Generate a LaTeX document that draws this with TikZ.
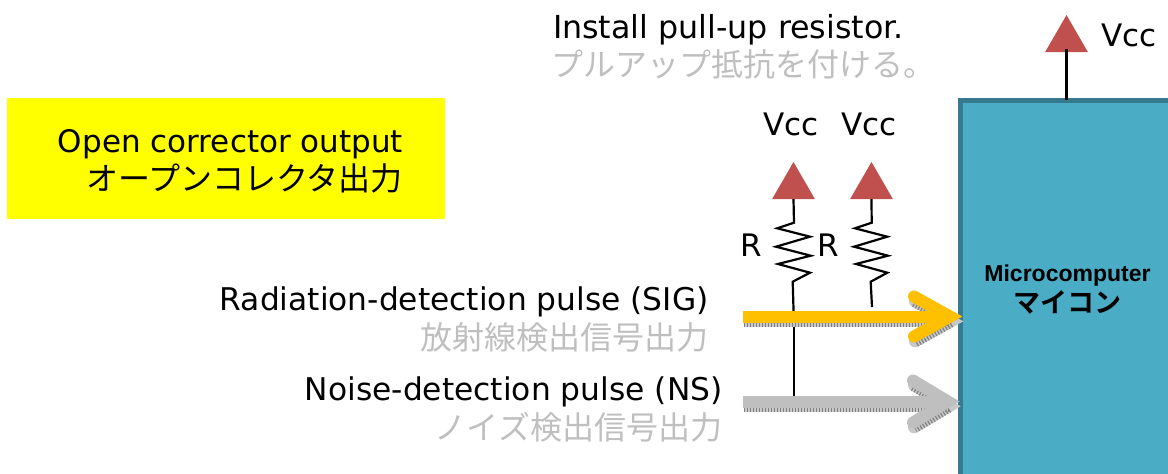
\documentclass[tikz,border=0pt]{standalone}
\usepackage{fontspec}
\setmainfont{DejaVu Sans}
\newfontfamily\cjk{Noto Sans CJK JP}
\newfontfamily\cjkb{Noto Sans CJK JP Bold}
\newfontfamily\mcfont{Liberation Sans}
\usetikzlibrary{shapes.geometric}
\definecolor{boxfill}{HTML}{4BACC6}
\definecolor{boxline}{HTML}{37798F}
\definecolor{vccred}{HTML}{C0504D}
\definecolor{sigor}{HTML}{FFC000}
\definecolor{nsgray}{HTML}{BFBFBF}
\definecolor{jpgray}{HTML}{BFBFBF}
\definecolor{ybg}{RGB}{255,255,0}
\definecolor{shadlight}{HTML}{C8C8C8}
\definecolor{shaddark}{HTML}{808080}
\tikzset{
  x=1pt,y=-1pt,
  en/.style={inner sep=0,outer sep=0,anchor=base west,font=\fontsize{31}{33}\selectfont,text=black},
  enr/.style={en,anchor=base east},
  enl/.style={enr,font=\fontsize{31.3}{33}\selectfont},
  jp/.style={inner sep=0,outer sep=0,anchor=base east,font=\fontsize{32}{34}\selectfont\cjk,text=black},
  jpg/.style={jp,text=jpgray},
  vcc/.style={regular polygon,regular polygon sides=3,minimum size=49.6pt,inner sep=0,outer sep=0,fill=vccred},
  wire/.style={draw=black,line width=2.2pt,line join=miter},
  bigarrow/.style={line width=12pt,line join=miter,miter limit=10,line cap=round},
  shaftcap/.style={line width=12pt,line cap=butt},
}
\newcommand{\fatarrow}[7]{%
  \begin{scope}[shift={(#7)}]
  \draw[#1,bigarrow] (#4,#3-#6) -- (#5,#3) -- (#4,#3+#6);
  \draw[#1,shaftcap] (#2,#3) -- (#5,#3);
  \end{scope}
}
\newcommand{\fatshadow}[6]{%
  \fatarrow{shadlight}{#1}{#2}{#3}{#4}{#5}{#6}
  \begin{scope}[shift={(#6)}]
  \draw[shaddark,line width=12pt,dash pattern=on 1.2pt off 1.8pt] (#1,#2) -- (#4,#2);
  \draw[shaddark,line width=12pt,dash pattern=on 1.2pt off 1.8pt] (#3,#2-#5) -- (#4,#2) -- (#3,#2+#5);
  \end{scope}
}
\begin{document}
\begin{tikzpicture}
\useasboundingbox (0,0) rectangle (1168,474);
\clip (0,0) rectangle (1168,474);
% microcomputer
\node[draw=boxline,line width=5pt,fill=boxfill,anchor=north west,minimum width=300pt,minimum height=450pt,inner sep=0,outer sep=0] (mcu) at (960.5,100) {};
\node[inner sep=0,font=\fontsize{23}{25}\selectfont\mcfont\bfseries] (mcutxt) at (1067.5,275.5) {Microcomputer};
\node[inner sep=0,font=\fontsize{27}{29}\selectfont\cjkb] (mcujp) at (1067,302) {マイコン};
% yellow
\node[fill=ybg,anchor=north west,minimum width=438pt,minimum height=121pt,inner sep=0,outer sep=0] (ybox) at (7,98) {};
\node[enr] (yt1) at (403,152) {Open corrector output};
\node[jp] (yt2) at (403,190) {オープンコレクタ出力};
% top text
\node[en,font=\fontsize{31.7}{33}\selectfont] (inst) at (553,38) {Install pull-up resistor.};
\node[jpg,anchor=base west] (instjp) at (551,76) {プルアップ抵抗を付ける。};
% vcc
\node[vcc] (v1) at (1066.5,39.8) {};
\node[vcc] (v2) at (793.5,186.8) {};
\node[vcc] (v3) at (871.5,186.8) {};
\node[en] (vt1) at (1101,46) {Vcc};
\node[en] (vt2) at (763,135) {Vcc};
\node[en] (vt3) at (841,135) {Vcc};
\node[en] (r1) at (740,256) {R};
\node[en] (r2) at (817,256) {R};
% labels
\node[enl] (sig) at (708.5,310) {Radiation-detection pulse (SIG)};
\node[jpg] (sigjp) at (708,349) {放射線検出信号出力};
\node[enl] (ns) at (722.5,400) {Noise-detection pulse (NS)};
\node[jpg] (nsjp) at (722,439) {ノイズ検出信号出力};
% junction points
\coordinate (j1) at (793.7,316);
\coordinate (j2) at (793.7,398);
\coordinate (j3) at (872,307);
% wires
\draw[wire] ([yshift=3.5pt]v1.side 2) -- (mcu.north west -| v1.center);
\draw[wire] (v2.side 2) -- (794,222.7) -- (777.3,228.3) -- (810,236.7) -- (776,246.7) -- (810.7,255.7) -- (778,264) -- (810,272.7) -- (792.7,281.7) -- (j1);
\draw[wire] (j1) -- (j2);
\draw[wire] (v3.side 2) -- (871.7,222.7) -- (855,228.3) -- (887.3,236.7) -- (854,246.7) -- (888,255.7) -- (856,264) -- (887.3,272.7) -- (870.7,281.7) -- (j3);
% arrows: shadow then face
\fatshadow{743}{316.5}{914}{950}{20}{1,4.8}
\fatarrow{sigor}{743}{316.5}{914}{950}{20}{0,0}
\fatshadow{743}{401.5}{913}{948}{21}{1,4.8}
\fatarrow{nsgray}{743}{401.5}{913}{948}{21}{0,0}
\end{tikzpicture}
\end{document}
